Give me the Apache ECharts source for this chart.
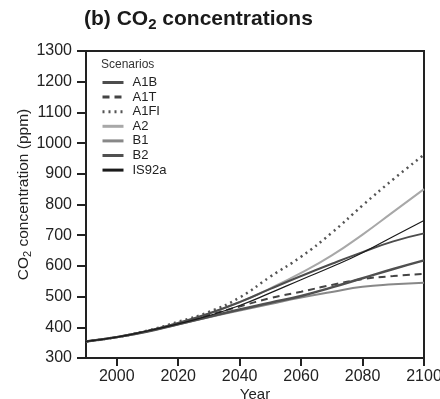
<!DOCTYPE html>
<html>
<head>
<meta charset="utf-8">
<script src="https://cdn.jsdelivr.net/npm/echarts@6/dist/echarts.min.js"></script>
<style>
  html, body { margin: 0; padding: 0; background: #fff; }
  #chart { width: 440px; height: 399px; }
</style>
</head>
<body>
<div id="chart"></div>
<script>
// years on the x axis
const years = [1990, 2000, 2010, 2020, 2030, 2040, 2050, 2060, 2070, 2080, 2090, 2100]
const xTicks = [2000, 2020, 2040, 2060, 2080, 2100]
const yTicks = [300, 400, 500, 600, 700, 800, 900, 1000, 1100, 1200, 1300]

// CO2 concentration (ppm) per scenario
const a1b = [354, 368, 388, 414, 445, 482, 525, 567, 607, 645, 680, 706]
const a1t = [354, 368, 388, 412, 440, 468, 495, 516, 538, 557, 567, 574]
const a1fi = [354, 368, 389, 418, 450, 497, 565, 630, 708, 797, 882, 962]
const a2 = [354, 368, 388, 414, 444, 482, 527, 577, 634, 702, 776, 850]
const b1 = [354, 368, 387, 410, 433, 455, 476, 497, 515, 532, 540, 545]
const b2 = [354, 368, 386, 410, 434, 458, 480, 502, 530, 560, 590, 618]
const is92a = [354, 368, 388, 411, 438, 471, 512, 555, 597, 643, 696, 748]

const scenarios = ['A1B', 'A1T', 'A1FI', 'A2', 'B1', 'B2', 'IS92a']

function pairs(vals) {
  return years.map((y, i) => [y, vals[i]])
}

function line(name, vals, color, width, type, z) {
  return {
    name: name,
    type: 'line',
    smooth: true,
    symbol: 'none',
    z: z,
    lineStyle: { color: color, width: width, type: type },
    itemStyle: { color: color },
    data: pairs(vals)
  }
}

const chart = echarts.init(document.getElementById('chart'))
const option = {
  animation: false,
  textStyle: { fontFamily: 'Liberation Sans, Arial, sans-serif' },
  title: {
    left: 79,
    top: 2,
    text: '(b) CO{s|2} concentrations',
    textStyle: {
      fontSize: 21,
      fontWeight: 'bold',
      color: '#1a1a1a',
      fontFamily: 'Liberation Sans',
      rich: {
        s: { fontSize: 15, fontWeight: 'bold', color: '#1a1a1a', fontFamily: 'Liberation Sans', padding: [10, 0, 0, 0] }
      }
    }
  },
  graphic: [{
    type: 'text',
    left: 101,
    top: 59,
    style: { text: 'Scenarios', fontSize: 12, fill: '#333', fontFamily: 'Liberation Sans' }
  }],
  legend: {
    orient: 'vertical',
    left: 101,
    top: 76,
    padding: 0,
    itemWidth: 21,
    itemHeight: 12,
    itemGap: 1.6,
    itemStyle: { opacity: 0 },
    lineStyle: { width: 3 },
    data: scenarios,
    textStyle: { fontSize: 13, color: '#222', lineHeight: 12, padding: [0, 0, 0, 4] }
  },
  grid: {
    left: 86,
    right: 16,
    top: 51,
    bottom: 41,
    outerBoundsMode: 'none',
    show: true,
    borderColor: '#222',
    borderWidth: 2
  },
  xAxis: {
    type: 'value',
    min: 1990,
    max: 2100,
    interval: 10,
    name: 'Year',
    nameLocation: 'middle',
    nameGap: 29,
    nameMoveOverlap: false,
    nameTextStyle: { fontSize: 15, color: '#222' },
    axisLine: { show: true, lineStyle: { color: '#222', width: 2 } },
    axisTick: { show: true, length: 8, lineStyle: { color: '#222', width: 2 }, customValues: xTicks },
    axisLabel: { fontSize: 16, color: '#222', margin: 11, customValues: xTicks, formatter: v => String(v) },
    splitLine: { show: false }
  },
  yAxis: {
    type: 'value',
    min: 300,
    max: 1300,
    interval: 100,
    name: 'CO{s|2} concentration (ppm)',
    nameLocation: 'middle',
    nameGap: 53,
    nameMoveOverlap: false,
    nameTextStyle: {
      fontSize: 15.5,
      color: '#222',
      padding: [0, 0, 0, 20],
      rich: {
        s: { fontSize: 11, color: '#222', padding: [8, 0, 0, 0] }
      }
    },
    axisLine: { show: true, lineStyle: { color: '#222', width: 2 } },
    axisTick: { show: true, length: 9, lineStyle: { color: '#222', width: 2 }, customValues: yTicks },
    axisLabel: { fontSize: 16, color: '#222', margin: 14, customValues: yTicks, formatter: v => String(v) },
    splitLine: { show: false }
  },
  series: [
    line('A1B', a1b, '#4d4d4d', 2, 'solid', 5),
    line('A1T', a1t, '#444444', 2, [7, 5], 4),
    line('A1FI', a1fi, '#555555', 2.5, [2, 4], 4),
    line('A2', a2, '#a8a8a8', 2, 'solid', 3),
    line('B1', b1, '#888888', 2, 'solid', 3),
    line('B2', b2, '#505050', 2.5, 'solid', 4),
    line('IS92a', is92a, '#1a1a1a', 1.2, 'solid', 6)
  ]
}
chart.setOption(option)
window.onresize = function() {
  chart.resize()
}
</script>
</body>
</html>
